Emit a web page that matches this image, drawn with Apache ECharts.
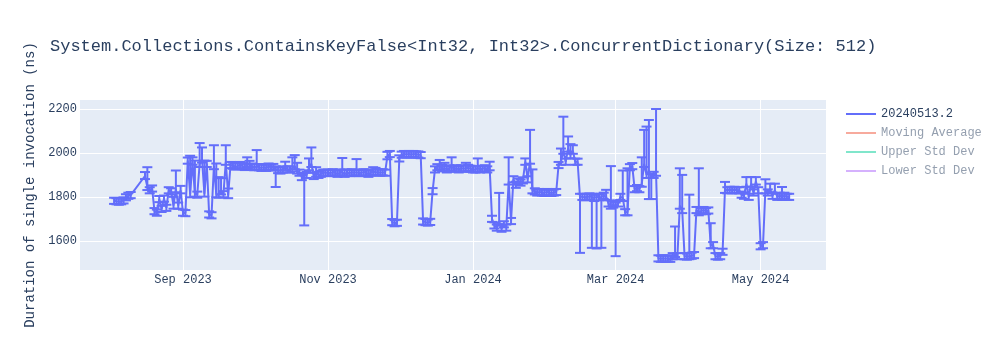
<!DOCTYPE html>
<html>
<head>
<meta charset="utf-8">
<script src="https://cdn.jsdelivr.net/npm/echarts@6/dist/echarts.min.js"></script>
<style>html,body{margin:0;padding:0;background:#fff}#c{width:1000px;height:350px}</style>
</head>
<body>
<div id="c"></div>
<script>
const titleText = 'System.Collections.ContainsKeyFalse<Int32, Int32>.ConcurrentDictionary(Size: 512)';
const yAxisTitle = 'Duration of single invocation (ns)';
const seriesNames = ['20240513.2', 'Moving Average', 'Upper Std Dev', 'Lower Std Dev'];

const dates = [
  // Aug 2023
  '2023-08-03','2023-08-04','2023-08-05','2023-08-06','2023-08-07','2023-08-08','2023-08-09','2023-08-10',
  '2023-08-16','2023-08-17','2023-08-18','2023-08-19','2023-08-20','2023-08-21','2023-08-22','2023-08-23',
  '2023-08-24','2023-08-25','2023-08-26','2023-08-27','2023-08-28','2023-08-29','2023-08-30','2023-08-31',
  // Sep 2023
  '2023-09-01','2023-09-02','2023-09-03','2023-09-04','2023-09-05','2023-09-06','2023-09-07','2023-09-08','2023-09-09','2023-09-10',
  '2023-09-11','2023-09-12','2023-09-13','2023-09-14','2023-09-15','2023-09-16','2023-09-17','2023-09-18','2023-09-19','2023-09-20',
  '2023-09-21','2023-09-22','2023-09-23','2023-09-24','2023-09-25','2023-09-26','2023-09-27','2023-09-28','2023-09-29','2023-09-30',
  // Oct 2023
  '2023-10-01','2023-10-02','2023-10-03','2023-10-04','2023-10-05','2023-10-06','2023-10-07','2023-10-08','2023-10-09','2023-10-10',
  '2023-10-11','2023-10-12','2023-10-13','2023-10-14','2023-10-15','2023-10-16','2023-10-17','2023-10-18','2023-10-19','2023-10-20',
  '2023-10-21','2023-10-22','2023-10-23','2023-10-24','2023-10-25','2023-10-26','2023-10-27','2023-10-28','2023-10-29','2023-10-30','2023-10-31',
  // Nov 2023
  '2023-11-01','2023-11-02','2023-11-03','2023-11-04','2023-11-05','2023-11-06','2023-11-07','2023-11-08','2023-11-09','2023-11-10',
  '2023-11-11','2023-11-12','2023-11-13','2023-11-14','2023-11-15','2023-11-16','2023-11-17','2023-11-18','2023-11-19','2023-11-20',
  '2023-11-21','2023-11-22','2023-11-23','2023-11-24','2023-11-25','2023-11-26','2023-11-27','2023-11-28','2023-11-29','2023-11-30',
  // Dec 2023
  '2023-12-01','2023-12-02','2023-12-03','2023-12-04','2023-12-05','2023-12-06','2023-12-07','2023-12-08','2023-12-09','2023-12-10',
  '2023-12-11','2023-12-12','2023-12-13','2023-12-14','2023-12-15','2023-12-16','2023-12-17','2023-12-18','2023-12-19','2023-12-20',
  '2023-12-21','2023-12-22','2023-12-23','2023-12-24','2023-12-25','2023-12-26','2023-12-27','2023-12-28','2023-12-29','2023-12-30','2023-12-31',
  // Jan 2024
  '2024-01-01','2024-01-02','2024-01-03','2024-01-04','2024-01-05','2024-01-06','2024-01-07','2024-01-08','2024-01-09','2024-01-10',
  '2024-01-11','2024-01-12','2024-01-13','2024-01-14','2024-01-15','2024-01-16','2024-01-17','2024-01-18','2024-01-19','2024-01-20',
  '2024-01-21','2024-01-22','2024-01-23','2024-01-24','2024-01-25','2024-01-26','2024-01-27','2024-01-28','2024-01-29','2024-01-30','2024-01-31',
  // Feb 2024
  '2024-02-01','2024-02-02','2024-02-03','2024-02-04','2024-02-05','2024-02-06','2024-02-07','2024-02-08','2024-02-09','2024-02-10',
  '2024-02-11','2024-02-12','2024-02-13','2024-02-14','2024-02-15','2024-02-16','2024-02-17','2024-02-18','2024-02-19','2024-02-20',
  '2024-02-21','2024-02-22','2024-02-23','2024-02-24','2024-02-25','2024-02-26','2024-02-27','2024-02-28','2024-02-29',
  // Mar 2024
  '2024-03-01','2024-03-02','2024-03-03','2024-03-04','2024-03-05','2024-03-06','2024-03-07','2024-03-08','2024-03-09','2024-03-10',
  '2024-03-11','2024-03-12','2024-03-13','2024-03-14','2024-03-15','2024-03-16','2024-03-17','2024-03-18','2024-03-19','2024-03-20',
  '2024-03-21','2024-03-22','2024-03-23','2024-03-24','2024-03-25','2024-03-26','2024-03-27','2024-03-28','2024-03-29','2024-03-30','2024-03-31',
  // Apr 2024
  '2024-04-01','2024-04-02','2024-04-03','2024-04-04','2024-04-05','2024-04-06','2024-04-07','2024-04-08','2024-04-09','2024-04-10',
  '2024-04-11','2024-04-12','2024-04-13','2024-04-14','2024-04-15','2024-04-16','2024-04-17','2024-04-18','2024-04-19','2024-04-20',
  '2024-04-21','2024-04-22','2024-04-23','2024-04-24','2024-04-25','2024-04-26','2024-04-27','2024-04-28','2024-04-29','2024-04-30',
  // May 2024
  '2024-05-01','2024-05-02','2024-05-03','2024-05-04','2024-05-05','2024-05-06','2024-05-07','2024-05-08','2024-05-09','2024-05-10',
  '2024-05-11','2024-05-12','2024-05-13'
];

const values = [
  // Aug
  1782,1780,1778,1780,1784,1798,1805,1808,
  1895,1845,1830,1838,1735,1728,1790,1745,
  1792,1750,1830,1825,1760,1835,1760,1830,
  // Sep
  1728,1726,1965,1812,1960,1815,1810,1950,1970,1815,
  1950,1720,1716,1940,1812,1810,1825,1812,1960,1808,
  1945,1942,1938,1940,1945,1940,1936,1945,1950,1938,
  // Oct
  1935,1938,1935,1932,1935,1932,1938,1934,1935,1925,
  1922,1920,1925,1935,1925,1925,1930,1940,1920,1910,
  1890,1895,1900,1935,1950,1895,1905,1900,1905,1910,1910,
  // Nov
  1910,1908,1912,1910,1905,1910,1912,1905,1910,1908,
  1912,1910,1912,1908,1910,1912,1910,1905,1910,1915,
  1912,1912,1910,1912,1910,1985,1995,1685,1680,1682,
  // Dec
  1975,1992,1995,1993,1995,1992,1995,1993,1993,1990,
  1688,1685,1683,1686,1826,1925,1935,1940,1932,1930,
  1925,1930,1935,1928,1930,1925,1930,1928,1930,1932,1928,
  // Jan
  1925,1925,1930,1925,1928,1930,1925,1935,1700,1670,
  1660,1690,1655,1675,1660,1870,1690,1880,1855,1870,
  1865,1875,1960,1880,1965,1830,1825,1820,1822,1820,1818,
  // Feb
  1822,1820,1818,1820,1822,1945,1960,2010,1960,2020,
  1990,2010,1960,1960,1800,1800,1798,1800,1802,1800,
  1795,1800,1798,1800,1805,1800,1770,1760,1765,
  // Mar
  1760,1770,1800,1795,1730,1730,1935,1940,1835,1840,
  1835,1860,1950,1900,1920,1890,1900,1910,1520,1518,
  1520,1518,1520,1518,1530,1540,1530,1760,1740,1530,1528,
  // Apr
  1530,1532,1535,1740,1730,1735,1740,1735,1738,1580,
  1580,1530,1528,1530,1550,1832,1830,1832,1830,1832,
  1830,1830,1810,1805,1860,1800,1860,1820,1870,1830,
  // May
  1575,1580,1830,1820,1835,1805,1830,1800,1805,1800,
  1805,1800,1800
];

const errPlus = [
  // Aug
  14,14,14,14,14,14,14,14,
  18,90,14,14,14,14,14,14,
  14,14,14,14,40,85,14,20,
  // Sep
  14,14,14,175,20,150,14,95,55,150,
  14,14,14,95,140,80,60,14,75,30,
  14,14,14,14,14,14,14,35,14,14,
  // Oct
  14,75,14,14,14,14,14,14,15,14,
  14,14,14,25,14,14,50,50,35,14,
  14,14,14,40,75,14,30,14,14,14,14,
  // Nov
  14,14,14,14,14,14,65,20,14,14,
  14,14,60,14,14,14,14,14,14,20,
  20,14,14,14,14,20,14,14,14,14,
  // Dec
  14,14,14,14,14,14,14,14,14,14,
  14,14,14,14,14,14,14,28,14,25,
  14,14,45,14,14,14,14,14,25,14,14,
  // Jan
  14,14,45,14,14,14,14,25,14,14,
  14,128,14,14,14,110,14,14,14,14,
  14,14,15,14,140,95,14,14,14,14,14,
  // Feb
  14,14,14,14,14,14,60,155,14,55,
  50,25,14,14,14,14,14,14,14,14,
  14,14,14,14,14,32,14,180,14,
  // Mar
  14,14,14,125,14,200,14,14,14,14,
  14,120,155,220,230,14,14,290,14,14,
  14,14,14,14,14,125,14,170,160,14,14,
  // Apr
  280,14,14,14,200,14,14,14,14,100,
  14,14,14,14,14,36,14,14,14,14,
  14,14,14,14,30,14,30,14,20,14,
  // May
  14,14,50,14,25,14,30,14,14,45,
  14,14,14
];

const errMinus = [
  // Aug
  14,14,14,14,14,14,14,14,
  14,14,14,14,14,14,14,14,
  14,14,14,14,14,14,14,14,
  // Sep
  14,14,14,14,14,14,14,14,14,14,
  14,14,14,14,14,14,14,14,14,14,
  14,14,14,14,14,14,14,14,14,14,
  // Oct
  14,14,14,14,14,14,14,14,14,80,
  14,14,14,14,14,14,14,14,14,14,
  14,225,14,14,14,14,14,14,14,14,14,
  // Nov
  14,14,14,14,14,14,14,14,14,14,
  14,14,14,14,14,14,14,14,14,14,
  14,14,14,14,14,14,14,14,14,14,
  // Dec
  14,14,14,14,14,14,14,14,14,14,
  14,14,14,14,14,14,14,14,14,14,
  14,14,14,14,14,14,14,14,14,14,14,
  // Jan
  14,14,14,14,14,14,14,14,14,14,
  14,14,14,14,14,14,14,14,14,14,
  14,14,14,14,14,14,14,14,14,14,14,
  // Feb
  14,14,14,14,14,14,14,14,14,14,
  14,14,14,14,255,14,14,14,14,232,
  14,235,14,232,14,14,14,14,14,
  // Mar
  230,14,14,14,14,14,14,14,14,14,
  14,14,14,14,130,100,14,14,14,14,
  14,14,14,14,14,14,14,14,14,14,14,
  // Apr
  14,14,14,14,14,14,14,14,14,14,
  14,14,14,14,14,14,14,14,14,14,
  14,14,14,14,14,14,14,14,14,14,
  // May
  14,14,14,14,14,14,14,14,14,14,
  14,14,14
];

const xTickDates = ['2023-09-01','2023-11-01','2024-01-01','2024-03-01','2024-05-01'];
const xTickLabels = ['Sep 2023','Nov 2023','Jan 2024','Mar 2024','May 2024'];
const xRange = ['2023-07-19 16:00','2024-05-28 12:00'];
const yTicks = [1600, 1800, 2000, 2200];
const yRange = [1467, 2241];

function toTs(s) {
  const parts = s.split(' ');
  const ymd = parts[0].split('-').map(Number);
  let h = 0, mi = 0;
  if (parts[1]) { const hm = parts[1].split(':').map(Number); h = hm[0]; mi = hm[1]; }
  return Date.UTC(ymd[0], ymd[1] - 1, ymd[2], h, mi);
}

const font = 'Liberation Mono, Courier New, monospace';
const mainColor = '#636efa';
const lineData = dates.map((d, i) => [toTs(d), values[i]]);
const errData = dates.map((d, i) => [toTs(d), values[i] - errMinus[i], values[i] + errPlus[i]]);
const xTickTs = xTickDates.map(toTs);

const chart = echarts.init(document.getElementById('c'), null, {renderer: 'canvas'});
chart.setOption({
  animation: false,
  backgroundColor: '#fff',
  title: {
    text: titleText, left: 45, top: 33,
    textStyle: {fontFamily: font, fontSize: 17, fontWeight: 'normal', color: '#2a3f5f'}
  },
  legend: {
    orient: 'vertical', left: 846, top: 107, padding: 0,
    icon: 'rect', itemWidth: 30, itemHeight: 2, itemGap: 5,
    textStyle: {fontFamily: font, fontSize: 12, lineHeight: 14, color: '#2a3f5f'},
    data: [
      {name: seriesNames[0]},
      {name: seriesNames[1], textStyle: {color: '#949faf'}},
      {name: seriesNames[2], textStyle: {color: '#949faf'}},
      {name: seriesNames[3], textStyle: {color: '#949faf'}}
    ]
  },
  grid: {left: 80, top: 100, width: 746, height: 170, show: true, backgroundColor: '#E5ECF6', borderWidth: 0},
  xAxis: {
    type: 'value', min: toTs(xRange[0]), max: toTs(xRange[1]),
    axisLine: {show: false}, axisTick: {show: false, customValues: xTickTs},
    splitLine: {show: true, lineStyle: {color: '#fff', width: 1}},
    axisLabel: {
      customValues: xTickTs, margin: 4, fontFamily: font, fontSize: 12, color: '#2a3f5f',
      formatter: function (v) { const i = xTickTs.indexOf(v); return i >= 0 ? xTickLabels[i] : ''; }
    }
  },
  yAxis: {
    type: 'value', min: yRange[0], max: yRange[1],
    name: yAxisTitle, nameLocation: 'middle', nameGap: 43,
    nameTextStyle: {fontFamily: font, fontSize: 14, color: '#2a3f5f'},
    axisLine: {show: false}, axisTick: {show: false, customValues: yTicks},
    splitLine: {show: true, lineStyle: {color: '#fff', width: 1}},
    axisLabel: {
      customValues: yTicks, margin: 3, fontFamily: font, fontSize: 12, color: '#2a3f5f',
      formatter: function (v) { return String(v); }
    }
  },
  series: [
    {
      name: seriesNames[0], type: 'line', data: lineData, symbol: 'none',
      lineStyle: {color: mainColor, width: 2}, itemStyle: {color: mainColor}, z: 3
    },
    {
      name: 'err', type: 'custom', data: errData, encode: {x: 0, y: [1, 2]}, clip: true, z: 2,
      renderItem: function (params, api) {
        const x = api.value(0);
        const lo = api.coord([x, api.value(1)]);
        const hi = api.coord([x, api.value(2)]);
        const hw = 5;
        const style = {stroke: mainColor, lineWidth: 2};
        return {type: 'group', children: [
          {type: 'line', shape: {x1: lo[0], y1: lo[1], x2: hi[0], y2: hi[1]}, style: style},
          {type: 'line', shape: {x1: lo[0] - hw, y1: lo[1], x2: lo[0] + hw, y2: lo[1]}, style: style},
          {type: 'line', shape: {x1: hi[0] - hw, y1: hi[1], x2: hi[0] + hw, y2: hi[1]}, style: style}
        ]};
      }
    },
    {name: seriesNames[1], type: 'line', data: [], symbol: 'none', lineStyle: {color: '#f7aa9d', width: 2}, itemStyle: {color: '#f7aa9d'}},
    {name: seriesNames[2], type: 'line', data: [], symbol: 'none', lineStyle: {color: '#80e6cb', width: 2}, itemStyle: {color: '#80e6cb'}},
    {name: seriesNames[3], type: 'line', data: [], symbol: 'none', lineStyle: {color: '#d5b1fd', width: 2}, itemStyle: {color: '#d5b1fd'}}
  ]
});
</script>
</body>
</html>
